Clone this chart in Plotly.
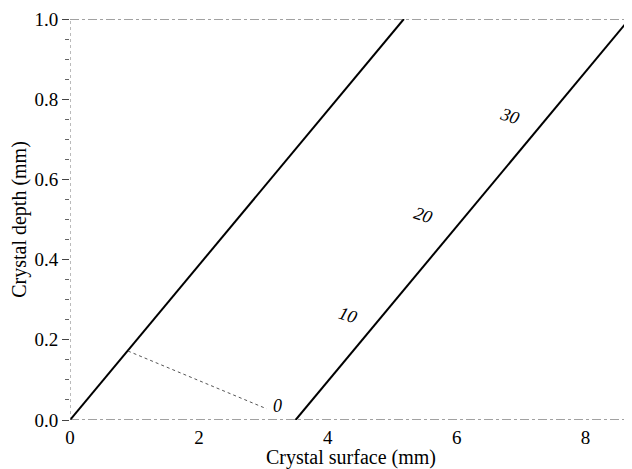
import plotly.graph_objects as go

# Data
line1_x = [0.0, 5.18]
line1_y = [0.0, 1.0]
line2_x = [3.5, 8.68]
line2_y = [0.0, 1.0]
dotted_x = [0.9, 3.05]
dotted_y = [0.172, 0.028]
label_text = ["0", "10", "20", "30"]
label_x = [3.22, 4.31, 5.47, 6.82]
label_y = [0.035, 0.262, 0.51, 0.757]
x_ticks = [0, 2, 4, 6, 8]
y_ticks = [0.0, 0.2, 0.4, 0.6, 0.8, 1.0]

XMAX = 8.72
font_family = "Liberation Serif, Times New Roman, serif"

fig = go.Figure()
fig.add_trace(go.Scatter(x=line1_x, y=line1_y, mode="lines",
                         line=dict(color="black", width=2), showlegend=False))
fig.add_trace(go.Scatter(x=line2_x, y=line2_y, mode="lines",
                         line=dict(color="black", width=2), showlegend=False))
fig.add_trace(go.Scatter(x=dotted_x, y=dotted_y, mode="lines",
                         line=dict(color="#555555", width=1, dash="dot"), showlegend=False))

for t, x, y in zip(label_text, label_x, label_y):
    fig.add_annotation(x=x, y=y, text="<i>" + t + "</i>", showarrow=False,
                       font=dict(family=font_family, size=18, color="black"),
                       textangle=0 if t == "0" else 18)

# broken frame lines
fig.add_shape(type="line", xref="x", yref="y", x0=0, x1=XMAX, y0=0, y1=0,
              line=dict(color="#444444", width=1.2, dash="dashdot"))
fig.add_shape(type="line", xref="x", yref="y", x0=0, x1=XMAX, y0=1, y1=1,
              line=dict(color="#444444", width=1.2, dash="dashdot"))
fig.add_shape(type="line", xref="x", yref="y", x0=0, x1=0, y0=0, y1=1,
              line=dict(color="#777777", width=1, dash="dot"))

fig.update_xaxes(range=[0, XMAX], tickvals=x_ticks, ticktext=[str(v) for v in x_ticks],
                 showgrid=False, zeroline=False, showline=False, ticks="", automargin=False,
                 ticklabelstandoff=4, ticklabeloverflow="allow",
                 tickfont=dict(family=font_family, size=19, color="black"),
                 title=dict(text="Crystal surface (mm)", standoff=2,
                            font=dict(family=font_family, size=20, color="black")))
fig.update_yaxes(range=[0, 1.0], tickvals=y_ticks, ticktext=[f"{v:.1f}" for v in y_ticks],
                 showgrid=False, zeroline=False, showline=False, automargin=False,
                 ticklabeloverflow="allow",
                 ticks="outside", ticklen=7, tickcolor="#444444", tickwidth=1,
                 minor=dict(dtick=0.05, ticks="outside", ticklen=4, tickcolor="#666666", tickwidth=1),
                 tickfont=dict(family=font_family, size=19, color="black"),
                 title=dict(text="Crystal depth (mm)", standoff=14,
                            font=dict(family=font_family, size=20, color="black")))

fig.update_layout(width=624, height=461, margin=dict(l=62, r=0, t=11, b=49),
                  plot_bgcolor="white", paper_bgcolor="white")

fig.write_html("out.html")
